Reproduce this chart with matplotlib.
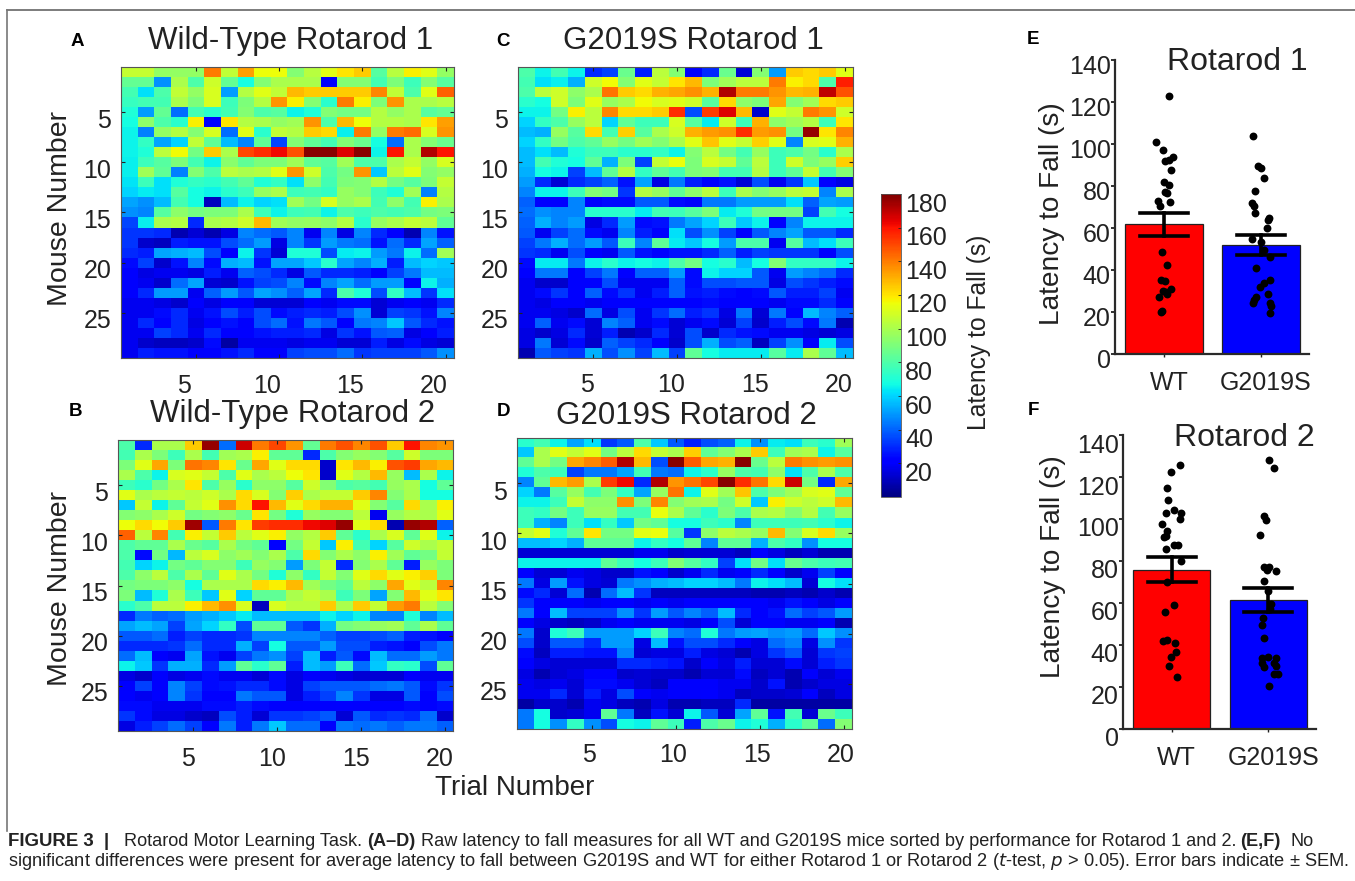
import numpy as np
import matplotlib
matplotlib.use("Agg")
import matplotlib.pyplot as plt
from matplotlib.lines import Line2D
from matplotlib.transforms import ScaledTranslation

plt.rcParams['font.family'] = ['Liberation Sans', 'DejaVu Sans']
W, H = 1355, 881

wt_r1 = [
[106,106,95,95,95,140,105,133,115,115,92,103,112,120,125,82,103,118,112,95],
[85,85,48,100,80,108,85,68,92,100,100,100,20,92,92,78,90,76,92,82],
[78,62,80,105,95,110,50,102,112,105,128,125,125,125,125,138,105,80,112,145],
[75,78,78,100,90,110,76,90,102,135,118,92,72,140,118,90,135,100,100,103],
[70,50,85,42,78,72,78,92,80,82,66,70,92,88,88,102,95,100,82,85],
[68,94,80,72,118,20,120,102,100,95,98,135,80,128,115,102,102,100,120,133],
[66,45,95,102,92,110,42,112,72,105,102,125,122,65,140,95,140,143,110,135],
[66,74,52,60,105,84,56,46,84,35,92,84,78,92,86,68,42,100,92,86],
[66,70,104,116,88,125,100,150,155,162,148,178,178,165,178,66,160,100,172,160],
[65,76,82,90,78,66,93,84,90,90,98,84,82,98,80,80,100,106,95,110],
[65,98,84,45,92,80,104,100,102,112,135,108,80,88,135,58,104,112,92,95],
[63,76,62,70,74,72,78,84,70,74,62,94,78,90,92,102,88,82,90,106],
[60,64,62,82,68,66,72,76,96,100,76,78,74,96,92,76,70,98,45,102],
[52,48,56,78,68,10,56,66,60,62,98,88,110,96,100,78,94,78,118,100],
[48,46,82,94,88,90,90,100,76,66,76,78,66,80,76,80,78,80,88,90],
[35,65,100,102,30,100,102,108,128,98,95,96,94,102,72,96,100,106,104,84],
[32,32,30,8,14,8,16,46,42,38,46,18,46,16,46,30,20,8,46,26],
[32,12,10,28,26,26,36,42,50,16,46,32,50,44,42,26,42,30,52,40],
[30,28,52,54,56,36,20,66,32,14,70,70,36,64,66,50,44,66,42,98],
[24,34,12,26,46,24,54,56,26,52,52,58,72,52,46,54,28,56,60,58],
[22,16,18,18,16,28,18,40,36,30,16,38,30,30,28,20,34,44,56,56],
[20,18,12,42,52,14,12,26,34,36,46,24,46,52,42,50,50,22,66,54],
[20,30,50,50,18,40,50,38,52,48,40,52,30,80,70,36,74,56,32,62],
[18,18,16,12,20,16,20,20,14,14,14,22,18,24,24,14,18,20,18,30],
[18,18,24,30,18,26,36,28,36,24,28,30,28,36,48,14,34,32,26,46],
[18,30,22,30,16,22,26,20,36,42,26,44,38,22,44,46,58,38,30,26],
[18,18,34,30,18,30,22,22,26,28,28,30,16,32,26,38,40,16,20,28],
[18,12,10,10,12,24,6,18,18,18,16,18,18,14,14,28,16,24,16,14],
[18,28,26,26,20,22,26,30,22,20,34,36,36,42,32,34,34,34,38,48],
]
g_r1 = [
[80,66,78,66,30,34,86,28,104,92,20,30,86,14,92,50,125,122,125,112],
[78,62,65,54,108,116,92,112,106,120,128,90,98,104,104,140,118,122,80,158],
[80,104,108,94,100,142,125,122,130,132,136,130,172,140,140,135,128,130,170,148],
[72,68,108,90,112,96,100,116,110,112,108,82,122,94,90,132,92,98,122,125],
[66,66,88,118,104,138,122,122,125,155,36,152,165,128,12,112,106,140,135,108],
[60,74,80,96,104,60,84,76,76,110,82,64,108,76,130,94,98,102,76,120],
[56,54,96,82,122,78,124,82,100,108,130,134,136,155,134,136,88,176,120,138],
[60,74,88,80,84,96,88,98,92,100,112,126,112,106,124,112,46,110,112,130],
[56,62,56,70,76,76,72,72,74,66,92,104,88,78,96,76,80,88,72,100],
[56,78,70,68,84,54,90,34,106,114,90,110,106,84,104,76,108,90,96,124],
[54,68,66,34,56,84,102,74,84,78,90,92,78,78,102,76,84,106,78,92],
[50,30,14,30,34,40,26,52,16,44,28,22,26,14,36,18,32,58,22,16],
[46,66,66,76,92,88,32,102,96,84,94,104,76,100,92,96,104,106,46,100],
[40,20,20,46,20,24,24,38,38,24,20,44,44,50,50,50,62,40,52,50],
[42,48,46,46,72,72,72,64,78,76,82,90,64,70,88,88,88,34,78,68],
[40,54,46,50,16,30,50,24,26,44,52,60,76,58,66,22,46,66,66,66],
[38,18,34,42,24,18,46,28,22,62,36,48,34,20,38,46,52,38,38,30],
[34,44,54,42,50,38,76,46,84,64,58,68,50,80,80,18,82,56,62,76],
[32,30,18,36,20,18,38,26,22,26,26,30,40,28,34,32,32,32,20,36],
[24,64,64,44,66,72,66,68,66,80,88,68,72,56,68,92,74,74,74,66],
[22,44,44,20,34,44,22,40,40,50,24,66,60,60,38,18,50,46,42,30],
[18,12,12,20,20,36,18,18,18,40,24,36,36,38,38,16,36,32,28,24],
[18,24,32,20,40,24,32,18,28,40,26,28,24,22,24,38,28,28,34,18],
[18,16,20,20,18,20,20,22,22,22,22,24,20,22,22,18,24,24,30,20],
[18,18,16,12,42,16,36,18,32,42,28,32,16,44,14,44,22,56,46,40],
[18,40,18,24,14,46,40,18,24,14,18,24,14,34,12,28,36,24,44,8],
[16,12,16,30,14,28,8,12,30,14,36,12,30,26,24,18,18,16,14,16],
[16,44,14,24,12,40,34,30,20,12,36,54,36,40,10,34,48,22,64,36],
[8,38,34,32,54,36,48,34,56,34,84,68,64,64,64,82,64,100,84,56],
]
wt_r2 = [
[80,30,100,100,125,176,42,168,140,150,135,85,140,148,138,148,125,160,138,135],
[78,100,90,76,100,78,98,100,118,84,84,30,80,92,96,92,82,108,90,90],
[90,112,132,90,142,138,120,86,132,112,122,122,12,120,128,118,148,152,132,128],
[100,80,66,110,112,106,80,112,100,104,115,120,12,112,102,128,96,56,100,66],
[76,72,88,100,120,80,96,72,94,94,82,108,92,80,82,78,96,100,68,84],
[112,100,104,106,104,108,100,122,110,92,124,100,106,106,125,138,92,100,68,68],
[58,106,66,84,106,112,136,122,160,128,112,122,130,130,112,92,82,122,100,118],
[92,94,100,108,88,92,94,86,120,88,70,96,92,92,104,18,96,102,100,112],
[115,122,116,125,175,38,140,120,152,155,155,162,165,176,112,122,8,176,172,40],
[145,104,138,78,118,106,125,104,112,118,95,102,125,84,72,100,110,84,112,66],
[80,84,84,100,86,82,100,88,84,22,88,106,58,118,78,60,82,108,100,106],
[80,24,88,55,104,110,94,98,92,100,80,122,92,100,94,118,98,84,88,106],
[78,60,66,88,84,92,92,76,96,92,50,90,106,30,92,100,84,28,96,90],
[80,94,104,80,100,84,112,100,88,70,94,74,106,92,112,122,112,118,124,90],
[88,90,90,94,68,100,100,100,122,118,128,98,88,84,104,94,132,112,104,138],
[90,56,70,100,76,58,112,60,84,84,100,106,100,76,90,52,92,128,112,120],
[72,80,104,104,118,128,136,110,10,110,104,104,125,100,125,106,134,140,104,92],
[30,44,40,42,50,54,58,64,56,56,56,56,66,60,66,46,46,70,46,56],
[52,56,52,34,52,60,74,36,84,84,38,32,54,88,92,96,98,84,100,84],
[38,38,42,28,34,30,30,32,46,46,46,46,40,34,34,36,40,28,26,20],
[30,30,30,32,42,30,30,54,34,68,38,38,50,36,36,28,26,20,36,44],
[42,56,20,18,52,26,18,34,44,48,34,56,28,38,24,56,42,42,50,44],
[66,58,32,54,54,30,50,84,72,84,28,56,50,76,42,58,74,72,36,84],
[16,12,20,16,18,24,18,18,14,24,16,20,18,16,14,14,14,20,18,18],
[20,34,20,46,34,24,26,30,30,24,16,34,38,38,38,42,44,38,24,32],
[22,18,22,46,32,22,22,44,38,38,16,28,34,46,32,16,16,38,20,36],
[24,24,18,18,18,24,24,28,24,20,20,22,20,22,20,22,22,24,22,24],
[32,24,16,16,12,10,36,28,14,32,32,34,38,14,38,30,32,30,42,12],
[16,28,34,42,34,22,44,28,44,58,42,42,20,44,42,44,40,44,44,40],
]
g_r2 = [
[72,78,66,52,62,32,38,80,58,38,28,36,40,66,48,64,62,76,72,98],
[58,100,112,106,112,88,104,122,106,100,124,84,92,100,125,76,98,100,66,82],
[84,100,88,132,138,146,172,128,36,178,146,132,130,178,86,104,140,136,134,136],
[70,80,76,34,44,44,52,78,44,42,66,72,96,80,78,94,62,80,100,80],
[46,84,128,134,100,152,162,30,172,135,142,150,178,155,142,122,168,88,30,132],
[60,44,82,96,78,90,74,52,96,142,66,112,98,126,80,90,98,110,112,84],
[66,66,76,106,94,94,136,90,138,92,98,100,88,108,58,118,108,104,108,128],
[76,74,88,76,96,96,78,78,114,100,84,72,90,80,100,102,92,102,78,96],
[76,54,46,76,62,74,58,88,84,68,68,76,72,46,76,76,76,78,72,66],
[106,112,70,84,120,88,88,112,114,82,32,94,104,100,96,128,92,110,122,96],
[56,56,60,54,84,84,84,66,74,68,84,46,84,84,54,80,74,48,68,68],
[14,14,14,14,14,14,14,18,18,12,14,14,14,10,22,16,10,14,8,8],
[66,66,66,66,66,84,76,68,76,92,82,74,34,62,88,62,86,80,76,78],
[22,14,14,18,16,12,12,26,22,12,18,30,18,20,30,22,12,18,34,22],
[44,16,50,26,16,14,44,48,54,56,60,60,56,44,66,62,56,14,68,62],
[24,30,14,42,8,42,56,32,10,10,10,10,10,10,8,8,10,8,12,8],
[32,20,20,20,18,20,22,18,20,18,22,22,20,22,20,18,26,20,16,20],
[44,22,56,34,34,34,48,32,50,38,46,40,56,30,20,26,42,34,38,50],
[20,16,12,10,12,18,20,18,18,18,16,20,36,14,22,22,18,18,20,8],
[44,12,70,76,50,50,50,60,76,46,42,70,44,50,52,48,50,42,58,48],
[36,12,38,38,30,50,50,16,56,26,36,36,30,20,16,42,46,16,48,32],
[24,10,28,28,26,26,46,14,16,16,28,16,14,8,16,32,38,14,32,34],
[22,16,14,14,14,14,30,30,28,26,12,20,16,28,14,14,24,14,28,32],
[16,8,14,16,20,20,12,14,12,12,8,14,14,24,10,14,8,20,14,18],
[18,16,18,14,24,24,18,14,10,20,20,20,18,18,12,26,8,12,16,16],
[18,18,30,14,28,16,36,20,18,20,20,22,18,10,12,12,14,22,10,16],
[6,12,12,8,18,16,10,8,16,8,8,10,10,30,6,6,6,6,6,6],
[44,68,12,14,18,84,44,10,26,14,66,38,14,52,84,26,78,14,86,76],
[44,68,48,74,48,36,68,66,84,76,28,80,86,66,70,54,72,84,42,92],
]

bar_labels = ['WT', 'G2019S']
r1_means = [62, 52]
r1_low = [56.4, 47.3]
r1_high = [67.2, 56.5]
r2_means = [75.8, 61.5]
r2_low = [69.8, 55.6]
r2_high = [81.8, 67.3]

r1_wt_vals = [123,101,97,94,92,92.5,87.5,82,80.5,76.5,77,73,70.5,72.5,48.5,42.5,35.3,35,31,30,28.6,27.2,20.5,20,29.7]
r1_wt_off = [.055,-.086,-.014,.09,.01,.055,.076,0,.052,.034,.01,-.062,-.041,.066,-.024,.031,-.034,.014,.076,-.014,.034,-.055,-.017,-.031,.02]
r1_g_vals = [103.7,89.7,88.4,83.6,77.7,71.9,70.3,67.3,64.7,63.9,59.8,54.7,53.3,49.3,46.1,40.9,35.3,34,31.8,28.6,27.3,25.8,24.2,24.2,23,19.6]
r1_g_off = [-.086,-.031,0,.028,-.062,-.093,-.076,-.066,.083,.072,.059,-.093,.003,.028,.097,-.048,.09,.028,-.007,.069,-.052,-.069,.097,-.083,.103,.09]
r2_wt_vals = [125.6,122.6,114.8,109,104.3,102.7,102.9,100,97.4,94.5,92,91.5,87.7,87.7,85.8,80,70,59,55.5,42.2,42,40.9,36.9,34.4,29.8,25]
r2_wt_off = [.09,-.003,-.045,-.034,.021,-.062,.093,.086,-.1,-.045,-.059,-.079,.021,.066,-.059,.097,-.048,.028,-.072,-.048,-.093,.034,.048,-.003,-.028,.055]
r2_g_vals = [128,124.5,101.2,99.6,92.6,77,77,75.3,75.8,70.4,65.5,59.5,57,52.8,49.3,43.3,33.8,34.2,33.8,31.4,31.4,29.5,29.8,26.3,26.3,20.5]
r2_g_off = [.01,.059,-.041,-.024,-.086,-.041,.007,.079,-.014,-.041,-.007,.028,.014,-.055,-.062,-.041,-.069,-.007,.079,-.062,.055,-.041,.079,.103,.062,.003]

TXT = '#222222'
fig = plt.figure(figsize=(W/100, H/100), dpi=100, facecolor='white')

def box(l, t, r, b):
    return [l/W, 1-b/H, (r-l)/W, (b-t)/H]

def put(x, y, s, **kw):
    kw.setdefault('ha', 'center')
    kw.setdefault('va', 'center')
    kw.setdefault('color', TXT)
    fig.text(x/W, 1-y/H, s, **kw)

def nudge(labels, dx, dy):
    # shift tick labels by pixels (dy positive = up)
    off = ScaledTranslation(dx/100, dy/100, fig.dpi_scale_trans)
    for lab in labels:
        lab.set_transform(lab.get_transform() + off)

panels = [
    (wt_r1, (121, 67, 454, 358), 'Wild-Type Rotarod 1', (291, 41), 22.5, 'A', (77, 41), (-12, -6), -6),
    (g_r1, (518, 67, 853, 358), 'G2019S Rotarod 1', (693, 41), 22.5, 'C', (503, 41), (-6, -5), -6),
    (wt_r2, (118, 440, 453, 731), 'Wild-Type Rotarod 2', (293, 414), 22.5, 'B', (76, 412), (-5, -6), -6),
    (g_r2, (517, 438, 852, 729), 'G2019S Rotarod 2', (686, 416), 22.5, 'D', (503, 412), (-3, -4), -7),
]
im = None
for data, b, title, tp, fs, letter, lp, xoff, yoff in panels:
    ax = fig.add_axes(box(*b))
    arr = np.array(data, dtype=float)
    im = ax.imshow(arr, cmap='jet', vmin=0, vmax=180, aspect='auto',
                   interpolation='nearest', extent=(0.5, 20.5, 29.5, 0.5))
    ax.set_xticks([5, 10, 15, 20])
    ax.set_yticks([5, 10, 15, 20, 25])
    ax.tick_params(direction='in', length=3, width=0.8, labelsize=18, colors=TXT, pad=7,
                   top=True, right=True)
    nudge(ax.get_xticklabels(), *xoff)
    nudge(ax.get_yticklabels(), 0, yoff)
    for s in ax.spines.values():
        s.set_color('#555555')
        s.set_linewidth(0.8)
    put(tp[0], tp[1], title, fontsize=fs)
    put(lp[0], lp[1], letter, fontsize=13.5, fontweight='bold', color='black')

put(60, 208, 'Mouse Number', fontsize=20.5, rotation=90)
put(60, 588, 'Mouse Number', fontsize=20.5, rotation=90)
put(515, 788, 'Trial Number', fontsize=20)

cax = fig.add_axes(box(881, 194, 901, 497))
cb = fig.colorbar(im, cax=cax)
cb.set_ticks(np.arange(20, 181, 20))
cb.ax.tick_params(direction='in', length=2, width=0.6, labelsize=18, colors=TXT, pad=3)
nudge(cb.ax.get_yticklabels(), 0, -8)
cb.outline.set_edgecolor('#555555')
cb.outline.set_linewidth(0.6)
put(979, 332, 'Latency to Fall (s)', fontsize=17.7, rotation=90)

def bars(b, means, low, high, wt_v, wt_o, g_v, g_o, title, tp, letter, lp, ylab_x, ylab_y, ydy):
    ax = fig.add_axes(box(*b))
    ax.patch.set_alpha(0)
    ax.bar([1, 2], means, width=0.8, color=['#ff0000', '#0000ff'], edgecolor='#222222', linewidth=0.9, zorder=2)
    for x, lo, hi in zip([1, 2], low, high):
        ax.plot([x, x], [lo, hi], color='black', lw=2.6, zorder=4)
        ax.plot([x-0.25, x+0.25], [lo, lo], color='black', lw=2.6, zorder=4)
        ax.plot([x-0.25, x+0.25], [hi, hi], color='black', lw=2.6, zorder=4)
    ax.scatter(1+np.array(wt_o), wt_v, s=32, color='black', zorder=3, linewidths=0)
    ax.scatter(2+np.array(g_o), g_v, s=32, color='black', zorder=3, linewidths=0)
    ax.set_xlim(0.495, 2.495)
    ax.set_ylim(0, 140)
    ax.set_xticks([1, 2], bar_labels)
    ax.set_yticks(np.arange(0, 141, 20))
    ax.spines['top'].set_visible(False)
    ax.spines['right'].set_visible(False)
    for s in ('left', 'bottom'):
        ax.spines[s].set_color('#2a2a2a')
        ax.spines[s].set_linewidth(1.6)
    ax.tick_params(axis='y', labelsize=18, colors=TXT, length=3, width=1.3, pad=0)
    ax.tick_params(axis='x', labelsize=18, colors=TXT, length=2, width=1.0, pad=10)
    nudge(ax.get_yticklabels(), 0, ydy)
    nudge(ax.get_xticklabels(), 5, 0)
    put(tp[0], tp[1], title, fontsize=23)
    put(lp[0], lp[1], letter, fontsize=13.5, fontweight='bold', color='black')
    put(ylab_x, ylab_y, 'Latency to Fall (s)', fontsize=20.2, rotation=90)

bars((1115, 60, 1309, 354), r1_means, r1_low, r1_high, r1_wt_vals, r1_wt_off, r1_g_vals, r1_g_off,
     'Rotarod 1', (1237, 62), 'E', (1033, 40), 1052, 214, -4)
bars((1123, 435, 1316, 729), r2_means, r2_low, r2_high, r2_wt_vals, r2_wt_off, r2_g_vals, r2_g_off,
     'Rotarod 2', (1244, 438), 'F', (1033, 410), 1053, 567, -8)

# top and left page rules
fig.add_artist(Line2D([7/W, 1], [1-10/H, 1-10/H], transform=fig.transFigure,
                      color='#666666', linewidth=1.2))
fig.add_artist(Line2D([7/W, 7/W], [1-10/H, 1-831/H], transform=fig.transFigure,
                      color='#777777', linewidth=1.2))

caption_line1 = [(8, 'FIGURE 3  |', 'bold', 13.4), (124, 'Rotarod Motor Learning Task.', 'normal', 13.1),
                 (367, '(A\u2013D)', 'bold', 13.1),
                 (421, 'Raw latency to fall measures for all WT and G2019S mice sorted by performance for Rotarod 1 and 2.', 'normal', 13.1),
                 (1240, '(E,F)', 'bold', 13.1), (1290, 'No', 'normal', 13.1)]
caption_line2 = 'significant differences were present for average latency to fall between G2019S and WT for either Rotarod 1 or Rotarod 2 ($\\mathit{t}$-test, $\\mathit{p}$ > 0.05). Error bars indicate \u00b1 SEM.'
for x, s, w, fs in caption_line1:
    fig.text(x/W, 1-842/H, s, fontsize=fs, fontweight=w, color=TXT, va='center', ha='left')
fig.text(8/W, 1-862/H, caption_line2, fontsize=13.15, color=TXT, va='center', ha='left')

fig.savefig('out.png', dpi=100)
